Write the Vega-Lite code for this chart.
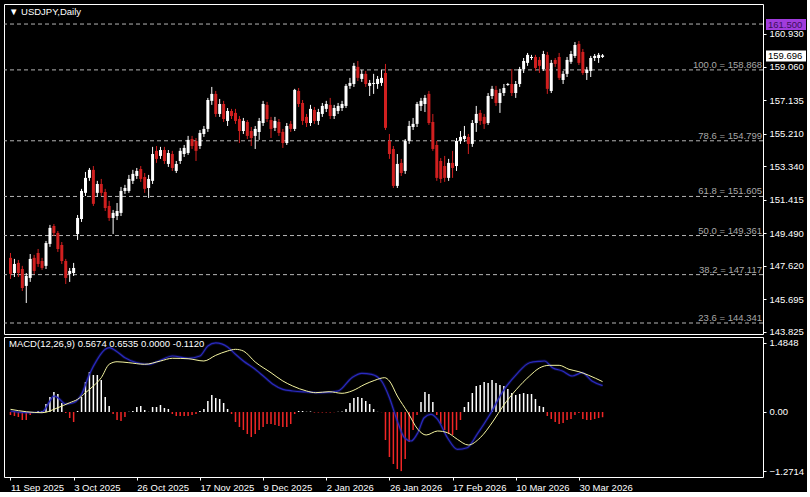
{
"$schema": "https://vega.github.io/schema/vega-lite/v6.json",
"background": "#000000",
"padding": {"left": 3, "top": 3, "right": 0, "bottom": 0},
"spacing": 3,
"bounds": "flush",
"config": {
  "view": {"stroke": "#ffffff", "strokeWidth": 1, "fill": "#000000"},
  "font": "Liberation Sans",
  "axis": {"labelColor": "#ffffff", "tickColor": "#ffffff", "domain": false, "grid": false, "labelFont": "Liberation Sans", "labelFontSize": 9.5, "title": null, "tickSize": 3, "labelPadding": 3, "labelOverlap": false, "labelBound": false, "labelFlush": false, "labelSeparation": 0}
},
"datasets": {
  "ohlc": [
{"i":0,"o":148.08,"h":148.36,"l":146.87,"c":147.16},
{"i":1,"o":147.21,"h":148.02,"l":146.98,"c":147.73},
{"i":2,"o":147.79,"h":147.96,"l":146.98,"c":147.21},
{"i":3,"o":147.44,"h":147.62,"l":146.18,"c":146.35},
{"i":4,"o":146.47,"h":147.21,"l":145.49,"c":147.04},
{"i":5,"o":146.93,"h":148.30,"l":146.70,"c":148.02},
{"i":6,"o":148.08,"h":148.25,"l":147.16,"c":147.33},
{"i":7,"o":148.36,"h":148.59,"l":147.56,"c":147.73},
{"i":8,"o":147.90,"h":148.08,"l":147.39,"c":147.50},
{"i":9,"o":147.62,"h":149.05,"l":147.44,"c":148.93},
{"i":10,"o":148.88,"h":149.97,"l":148.71,"c":149.80},
{"i":11,"o":149.91,"h":150.02,"l":149.34,"c":149.51},
{"i":12,"o":149.51,"h":149.62,"l":148.42,"c":148.59},
{"i":13,"o":148.82,"h":148.99,"l":147.73,"c":147.90},
{"i":14,"o":147.90,"h":148.02,"l":146.58,"c":146.93},
{"i":15,"o":147.16,"h":147.50,"l":146.70,"c":147.33},
{"i":16,"o":147.21,"h":147.79,"l":147.04,"c":147.50},
{"i":17,"o":149.45,"h":150.54,"l":149.11,"c":150.37},
{"i":18,"o":150.31,"h":152.04,"l":150.14,"c":151.92},
{"i":19,"o":151.81,"h":153.01,"l":151.63,"c":152.67},
{"i":20,"o":152.67,"h":153.24,"l":152.50,"c":153.13},
{"i":21,"o":153.13,"h":153.35,"l":151.06,"c":151.18},
{"i":22,"o":151.81,"h":152.50,"l":151.58,"c":152.32},
{"i":23,"o":152.32,"h":152.61,"l":151.63,"c":151.81},
{"i":24,"o":151.86,"h":152.04,"l":150.77,"c":150.94},
{"i":25,"o":151.06,"h":151.35,"l":150.20,"c":150.37},
{"i":26,"o":150.37,"h":150.83,"l":149.45,"c":150.66},
{"i":27,"o":150.48,"h":151.23,"l":150.25,"c":150.77},
{"i":28,"o":150.66,"h":152.15,"l":150.48,"c":151.92},
{"i":29,"o":151.92,"h":152.27,"l":151.75,"c":152.09},
{"i":30,"o":151.92,"h":152.84,"l":151.81,"c":152.61},
{"i":31,"o":152.50,"h":153.13,"l":152.32,"c":152.90},
{"i":32,"o":152.78,"h":153.24,"l":152.61,"c":153.07},
{"i":33,"o":153.18,"h":153.35,"l":152.44,"c":152.61},
{"i":34,"o":152.72,"h":152.95,"l":151.81,"c":152.04},
{"i":35,"o":152.09,"h":152.84,"l":151.52,"c":152.61},
{"i":36,"o":152.50,"h":154.45,"l":152.32,"c":154.04},
{"i":37,"o":154.22,"h":154.50,"l":153.53,"c":153.76},
{"i":38,"o":153.93,"h":154.45,"l":153.76,"c":154.27},
{"i":39,"o":154.27,"h":154.45,"l":153.47,"c":153.64},
{"i":40,"o":153.47,"h":154.27,"l":153.30,"c":154.10},
{"i":41,"o":154.04,"h":154.22,"l":153.07,"c":153.24},
{"i":42,"o":153.07,"h":153.64,"l":152.95,"c":153.47},
{"i":43,"o":153.64,"h":154.39,"l":153.47,"c":154.22},
{"i":44,"o":154.04,"h":154.56,"l":153.87,"c":154.39},
{"i":45,"o":154.10,"h":155.08,"l":153.99,"c":154.85},
{"i":46,"o":154.90,"h":155.08,"l":154.33,"c":154.50},
{"i":47,"o":154.79,"h":154.96,"l":153.64,"c":154.22},
{"i":48,"o":154.50,"h":155.42,"l":154.33,"c":155.25},
{"i":49,"o":155.19,"h":155.65,"l":155.02,"c":155.48},
{"i":50,"o":155.48,"h":157.26,"l":155.31,"c":157.14},
{"i":51,"o":157.09,"h":157.89,"l":156.86,"c":157.49},
{"i":52,"o":157.49,"h":157.66,"l":156.17,"c":156.34},
{"i":53,"o":156.34,"h":157.20,"l":156.17,"c":156.91},
{"i":54,"o":156.91,"h":157.09,"l":155.88,"c":156.05},
{"i":55,"o":155.94,"h":156.68,"l":155.65,"c":156.51},
{"i":56,"o":156.51,"h":156.63,"l":156.05,"c":156.22},
{"i":57,"o":156.40,"h":156.63,"l":155.77,"c":155.94},
{"i":58,"o":156.05,"h":156.22,"l":154.67,"c":155.36},
{"i":59,"o":155.36,"h":156.11,"l":155.19,"c":155.94},
{"i":60,"o":155.88,"h":155.99,"l":154.90,"c":155.08},
{"i":61,"o":155.36,"h":155.59,"l":154.50,"c":154.96},
{"i":62,"o":155.08,"h":155.65,"l":154.33,"c":155.48},
{"i":63,"o":155.31,"h":156.11,"l":154.85,"c":155.94},
{"i":64,"o":155.82,"h":157.09,"l":155.65,"c":156.91},
{"i":65,"o":156.86,"h":157.03,"l":155.88,"c":156.05},
{"i":66,"o":155.99,"h":156.17,"l":154.96,"c":155.48},
{"i":67,"o":155.54,"h":156.17,"l":155.36,"c":155.94},
{"i":68,"o":155.88,"h":156.05,"l":155.08,"c":155.25},
{"i":69,"o":155.31,"h":155.48,"l":154.39,"c":154.67},
{"i":70,"o":154.67,"h":155.82,"l":154.56,"c":155.65},
{"i":71,"o":155.77,"h":155.94,"l":155.31,"c":155.48},
{"i":72,"o":155.48,"h":157.78,"l":155.36,"c":157.72},
{"i":73,"o":157.66,"h":157.83,"l":156.74,"c":156.91},
{"i":74,"o":156.97,"h":157.14,"l":155.71,"c":155.94},
{"i":75,"o":156.17,"h":156.34,"l":155.59,"c":155.82},
{"i":76,"o":155.82,"h":156.86,"l":155.65,"c":156.63},
{"i":77,"o":156.57,"h":156.74,"l":155.77,"c":155.94},
{"i":78,"o":155.94,"h":156.63,"l":155.71,"c":156.45},
{"i":79,"o":156.34,"h":156.97,"l":156.17,"c":156.80},
{"i":80,"o":156.63,"h":157.09,"l":156.45,"c":156.91},
{"i":81,"o":156.86,"h":157.26,"l":156.05,"c":156.22},
{"i":82,"o":156.22,"h":156.86,"l":156.05,"c":156.68},
{"i":83,"o":156.51,"h":156.97,"l":156.34,"c":156.80},
{"i":84,"o":156.68,"h":157.09,"l":156.51,"c":156.91},
{"i":85,"o":156.80,"h":158.06,"l":156.68,"c":157.95},
{"i":86,"o":157.95,"h":158.41,"l":157.78,"c":158.12},
{"i":87,"o":158.06,"h":159.27,"l":157.89,"c":159.10},
{"i":88,"o":159.04,"h":159.38,"l":158.23,"c":158.41},
{"i":89,"o":158.35,"h":158.87,"l":158.18,"c":158.64},
{"i":90,"o":158.64,"h":158.81,"l":157.89,"c":158.06},
{"i":91,"o":157.95,"h":158.29,"l":157.37,"c":158.12},
{"i":92,"o":158.06,"h":158.64,"l":157.49,"c":158.12},
{"i":93,"o":158.06,"h":158.52,"l":157.78,"c":158.35},
{"i":94,"o":158.12,"h":158.87,"l":157.95,"c":158.41},
{"i":95,"o":158.69,"h":159.21,"l":155.42,"c":155.54},
{"i":96,"o":154.79,"h":155.19,"l":153.76,"c":154.04},
{"i":97,"o":154.33,"h":154.50,"l":152.09,"c":152.21},
{"i":98,"o":152.21,"h":154.04,"l":152.09,"c":153.47},
{"i":99,"o":153.53,"h":153.76,"l":152.78,"c":152.95},
{"i":100,"o":153.07,"h":154.90,"l":152.90,"c":154.79},
{"i":101,"o":154.79,"h":155.94,"l":154.62,"c":155.65},
{"i":102,"o":155.59,"h":156.11,"l":155.42,"c":155.77},
{"i":103,"o":155.77,"h":157.03,"l":155.59,"c":156.91},
{"i":104,"o":156.80,"h":157.26,"l":156.51,"c":157.09},
{"i":105,"o":156.91,"h":157.43,"l":156.45,"c":157.26},
{"i":106,"o":157.49,"h":157.66,"l":155.71,"c":155.82},
{"i":107,"o":155.88,"h":156.34,"l":154.22,"c":154.33},
{"i":108,"o":154.56,"h":154.79,"l":152.50,"c":152.67},
{"i":109,"o":153.64,"h":153.81,"l":152.38,"c":152.61},
{"i":110,"o":153.35,"h":153.93,"l":152.44,"c":152.67},
{"i":111,"o":152.67,"h":153.76,"l":152.50,"c":153.53},
{"i":112,"o":153.53,"h":154.22,"l":152.67,"c":153.24},
{"i":113,"o":153.35,"h":154.96,"l":153.07,"c":154.79},
{"i":114,"o":154.79,"h":155.36,"l":154.62,"c":155.02},
{"i":115,"o":154.90,"h":155.65,"l":154.73,"c":155.08},
{"i":116,"o":155.02,"h":155.19,"l":154.04,"c":154.62},
{"i":117,"o":154.62,"h":155.99,"l":154.45,"c":155.82},
{"i":118,"o":155.82,"h":156.80,"l":155.31,"c":156.34},
{"i":119,"o":156.40,"h":156.57,"l":155.71,"c":155.94},
{"i":120,"o":156.17,"h":156.34,"l":155.48,"c":155.77},
{"i":121,"o":155.82,"h":157.54,"l":155.71,"c":157.37},
{"i":122,"o":157.37,"h":157.95,"l":157.20,"c":157.78},
{"i":123,"o":157.72,"h":157.95,"l":156.80,"c":156.97},
{"i":124,"o":156.97,"h":157.78,"l":156.40,"c":157.54},
{"i":125,"o":157.54,"h":158.06,"l":157.37,"c":157.83},
{"i":126,"o":158.00,"h":158.12,"l":157.95,"c":158.06},
{"i":127,"o":158.06,"h":158.92,"l":157.37,"c":157.54},
{"i":128,"o":157.54,"h":158.23,"l":157.26,"c":158.06},
{"i":129,"o":158.06,"h":159.04,"l":157.89,"c":158.92},
{"i":130,"o":158.92,"h":159.55,"l":158.69,"c":159.38},
{"i":131,"o":159.27,"h":159.84,"l":159.10,"c":159.73},
{"i":132,"o":159.55,"h":159.73,"l":159.44,"c":159.61},
{"i":133,"o":159.61,"h":159.73,"l":158.81,"c":158.98},
{"i":134,"o":159.44,"h":159.61,"l":158.69,"c":159.10},
{"i":135,"o":158.92,"h":159.96,"l":158.81,"c":159.78},
{"i":136,"o":159.73,"h":159.90,"l":157.49,"c":157.78},
{"i":137,"o":157.66,"h":159.44,"l":157.54,"c":159.27},
{"i":138,"o":159.44,"h":159.55,"l":159.04,"c":159.21},
{"i":139,"o":159.61,"h":159.84,"l":158.29,"c":158.41},
{"i":140,"o":158.29,"h":158.81,"l":158.06,"c":158.64},
{"i":141,"o":158.64,"h":159.61,"l":158.46,"c":159.44},
{"i":142,"o":159.33,"h":159.96,"l":159.21,"c":159.78},
{"i":143,"o":159.67,"h":160.47,"l":159.55,"c":160.30},
{"i":144,"o":160.36,"h":160.53,"l":159.15,"c":159.27},
{"i":145,"o":159.90,"h":160.07,"l":158.58,"c":158.69},
{"i":146,"o":158.69,"h":159.04,"l":158.29,"c":158.87},
{"i":147,"o":158.81,"h":159.67,"l":158.46,"c":159.55},
{"i":148,"o":159.55,"h":159.78,"l":159.38,"c":159.67},
{"i":149,"o":159.55,"h":159.84,"l":159.27,"c":159.73},
{"i":150,"o":159.61,"h":159.78,"l":159.55,"c":159.70}
  ],
  "hist": [
{"i":0,"v":-0.065},{"i":1,"v":-0.086},{"i":2,"v":-0.108},{"i":3,"v":-0.172},{"i":4,"v":-0.172},{"i":5,"v":-0.065},{"i":6,"v":-0.022},{"i":7,"v":0.022},{"i":8,"v":0.022},{"i":9,"v":0.172},
{"i":10,"v":0.323},{"i":11,"v":0.43},{"i":12,"v":0.387},{"i":13,"v":0.194},{"i":14,"v":-0.022},{"i":15,"v":-0.129},{"i":16,"v":-0.215},{"i":17,"v":0.022},{"i":18,"v":0.323},{"i":19,"v":0.645},
{"i":20,"v":0.86},{"i":21,"v":0.796},{"i":22,"v":0.796},{"i":23,"v":0.688},{"i":24,"v":0.323},{"i":25,"v":0.129},{"i":26,"v":-0.043},{"i":27,"v":-0.172},{"i":28,"v":-0.194},{"i":29,"v":-0.108},
{"i":30,"v":0.005},{"i":31,"v":0.022},{"i":32,"v":0.108},{"i":33,"v":0.129},{"i":34,"v":0.043},{"i":35,"v":0.005},{"i":36,"v":0.108},{"i":37,"v":0.108},{"i":38,"v":0.151},{"i":39,"v":0.086},
{"i":40,"v":0.065},{"i":41,"v":-0.043},{"i":42,"v":-0.086},{"i":43,"v":-0.086},{"i":44,"v":-0.086},{"i":45,"v":-0.086},{"i":46,"v":-0.065},{"i":47,"v":-0.043},{"i":48,"v":0.022},{"i":49,"v":0.065},
{"i":50,"v":0.237},{"i":51,"v":0.366},{"i":52,"v":0.301},{"i":53,"v":0.28},{"i":54,"v":0.194},{"i":55,"v":0.065},{"i":56,"v":-0.043},{"i":57,"v":-0.215},{"i":58,"v":-0.323},{"i":59,"v":-0.387},
{"i":60,"v":-0.473},{"i":61,"v":-0.538},{"i":62,"v":-0.473},{"i":63,"v":-0.387},{"i":64,"v":-0.323},{"i":65,"v":-0.258},{"i":66,"v":-0.258},{"i":67,"v":-0.28},{"i":68,"v":-0.301},{"i":69,"v":-0.323},
{"i":70,"v":-0.323},{"i":71,"v":-0.258},{"i":72,"v":-0.043},{"i":73,"v":0.022},{"i":74,"v":0.022},{"i":75,"v":0.006},{"i":76,"v":0.011},{"i":77,"v":-0.011},{"i":78,"v":-0.011},{"i":79,"v":-0.011},
{"i":80,"v":-0.011},{"i":81,"v":-0.011},{"i":82,"v":-0.006},{"i":83,"v":0.006},{"i":84,"v":0.011},{"i":85,"v":0.065},{"i":86,"v":0.194},{"i":87,"v":0.301},{"i":88,"v":0.323},{"i":89,"v":0.301},
{"i":90,"v":0.237},{"i":91,"v":0.172},{"i":92,"v":0.065},{"i":93,"v":0.004},{"i":94,"v":-0.004},{"i":95,"v":-0.602},{"i":96,"v":-0.968},{"i":97,"v":-1.118},{"i":98,"v":-1.226},{"i":99,"v":-1.2714},
{"i":100,"v":-1.011},{"i":101,"v":-0.645},{"i":102,"v":-0.387},{"i":103,"v":-0.065},{"i":104,"v":0.215},{"i":105,"v":0.43},{"i":106,"v":0.387},{"i":107,"v":0.215},{"i":108,"v":-0.065},{"i":109,"v":-0.258},
{"i":110,"v":-0.387},{"i":111,"v":-0.473},{"i":112,"v":-0.495},{"i":113,"v":-0.387},{"i":114,"v":-0.172},{"i":115,"v":0.108},{"i":116,"v":0.215},{"i":117,"v":0.409},{"i":118,"v":0.559},{"i":119,"v":0.581},
{"i":120,"v":0.645},{"i":121,"v":0.624},{"i":122,"v":0.688},{"i":123,"v":0.624},{"i":124,"v":0.581},{"i":125,"v":0.559},{"i":126,"v":0.495},{"i":127,"v":0.409},{"i":128,"v":0.366},{"i":129,"v":0.387},
{"i":130,"v":0.409},{"i":131,"v":0.387},{"i":132,"v":0.387},{"i":133,"v":0.28},{"i":134,"v":0.129},{"i":135,"v":0.108},{"i":136,"v":-0.086},{"i":137,"v":-0.151},{"i":138,"v":-0.215},{"i":139,"v":-0.258},
{"i":140,"v":-0.237},{"i":141,"v":-0.172},{"i":142,"v":-0.151},{"i":143,"v":-0.065},{"i":144,"v":-0.022},{"i":145,"v":-0.151},{"i":146,"v":-0.172},{"i":147,"v":-0.172},{"i":148,"v":-0.151},{"i":149,"v":-0.129},
{"i":150,"v":-0.112}
  ],
  "macd": [
{"i":0,"v":0.022},{"i":4,"v":-0.015},{"i":8,"v":0},{"i":10,"v":0.237},{"i":11,"v":0.344},{"i":12,"v":0.308},{"i":14,"v":0.172},{"i":16,"v":0.2},{"i":18,"v":0.381},{"i":20,"v":0.811},
{"i":22,"v":1.133},{"i":24,"v":1.348},{"i":25,"v":1.383},{"i":27,"v":1.297},{"i":29,"v":1.168},{"i":32,"v":1.06},{"i":35,"v":1.026},{"i":38,"v":1.112},{"i":41,"v":1.204},{"i":45,"v":1.155},
{"i":48,"v":1.204},{"i":50,"v":1.419},{"i":52,"v":1.4848},{"i":55,"v":1.398},{"i":57,"v":1.241},{"i":59,"v":1.097},{"i":62,"v":0.918},{"i":65,"v":0.703},{"i":66.5,"v":0.596},{"i":69,"v":0.488},
{"i":71.5,"v":0.452},{"i":75,"v":0.43},{"i":79,"v":0.415},{"i":83,"v":0.452},{"i":86.5,"v":0.738},{"i":89,"v":0.832},{"i":91.5,"v":0.811},{"i":94,"v":0.667},{"i":96,"v":0.308},{"i":98,"v":-0.194},
{"i":99.8,"v":-0.553},{"i":101.5,"v":-0.624},{"i":103.2,"v":-0.445},{"i":104.8,"v":-0.123},{"i":106.5,"v":-0.049},{"i":108.2,"v":-0.157},{"i":110.7,"v":-0.553},{"i":113.2,"v":-0.802},{"i":115.7,"v":-0.768},{"i":118.2,"v":-0.48},
{"i":121.5,"v":-0.049},{"i":124.8,"v":0.452},{"i":128.2,"v":0.811},{"i":131.5,"v":1.06},{"i":134,"v":1.09},{"i":135.3,"v":1.097},{"i":137.3,"v":0.953},{"i":139.8,"v":0.882},{"i":142.3,"v":0.774},{"i":144.8,"v":0.845},
{"i":147.3,"v":0.667},{"i":150,"v":0.5674}
  ],
  "sig": [
{"i":0,"v":0.058},{"i":4,"v":0.006},{"i":8,"v":-0.015},{"i":12,"v":0.092},{"i":15,"v":0.2},{"i":17,"v":0.273},{"i":19,"v":0.415},{"i":21,"v":0.559},{"i":23,"v":0.738},{"i":25,"v":1.026},
{"i":27,"v":1.081},{"i":30,"v":1.06},{"i":34,"v":1.026},{"i":38,"v":1.097},{"i":41,"v":1.155},{"i":45,"v":1.146},{"i":49,"v":1.097},{"i":52,"v":1.219},{"i":55,"v":1.312},{"i":57,"v":1.348},
{"i":59,"v":1.312},{"i":62,"v":1.075},{"i":66,"v":0.845},{"i":69,"v":0.667},{"i":71.5,"v":0.559},{"i":75,"v":0.452},{"i":77.3,"v":0.415},{"i":80.7,"v":0.437},{"i":84,"v":0.402},{"i":86.5,"v":0.452},
{"i":89.8,"v":0.596},{"i":92.3,"v":0.682},{"i":94.8,"v":0.738},{"i":96,"v":0.667},{"i":98,"v":0.344},{"i":100.7,"v":-0.015},{"i":103.2,"v":-0.372},{"i":105.3,"v":-0.495},{"i":108.2,"v":-0.409},{"i":110.7,"v":-0.445},
{"i":113.2,"v":-0.587},{"i":116,"v":-0.71},{"i":119,"v":-0.553},{"i":122.3,"v":-0.194},{"i":124.8,"v":0.129},{"i":128.2,"v":0.488},{"i":131.5,"v":0.774},{"i":134,"v":0.946},{"i":136.5,"v":1.004},{"i":139,"v":1.004},
{"i":141.5,"v":0.918},{"i":144,"v":0.867},{"i":146.5,"v":0.789},{"i":150,"v":0.6535}
  ],
  "fib": [
{"p":161.5,"lbl":""},
{"p":158.868,"lbl":"100.0 = 158.868"},
{"p":154.799,"lbl":"78.6 = 154.799"},
{"p":151.605,"lbl":"61.8 = 151.605"},
{"p":149.361,"lbl":"50.0 = 149.361"},
{"p":147.117,"lbl":"38.2 = 147.117"},
{"p":144.341,"lbl":"23.6 = 144.341"}
  ],
  "tags": [
{"p":159.696,"lbl":"159.696","k":"last"},
{"p":161.5,"lbl":"161.500","k":"alert"}
  ]
},
"vconcat": [
  {
    "width": 759,
    "height": 330,
    "title": {"text": "▼ USDJPY,Daily", "anchor": "start", "frame": "group", "offset": -12, "dx": 5, "color": "#ffffff", "fontSize": 9.5, "fontWeight": "normal", "font": "Liberation Sans"},
    "layer": [
      {
        "data": {"name": "fib"},
        "mark": {"type": "rule", "strokeDash": [4, 3], "color": "#b4b4b4", "strokeWidth": 1},
        "encoding": {
          "y": {"field": "p", "type": "quantitative", "scale": {"domain": [143.71, 162.65], "nice": false, "zero": false},
                "axis": {"orient": "right", "values": [160.93, 159.06, 157.135, 155.21, 153.34, 151.415, 149.49, 147.62, 145.695, 143.825], "format": ".3f", "tickSize": 3, "labelPadding": 3, "labelOverlap": false, "labelBound": false, "labelSeparation": 0}}
        }
      },
      {
        "data": {"name": "fib"},
        "mark": {"type": "text", "align": "right", "baseline": "alphabetic", "dx": -1, "dy": -2, "color": "#a8a8a8", "fontSize": 9.5, "font": "Liberation Sans"},
        "encoding": {
          "x": {"value": "width"},
          "y": {"field": "p", "type": "quantitative",
                "axis": {"orient": "right", "values": [160.93, 159.06, 157.135, 155.21, 153.34, 151.415, 149.49, 147.62, 145.695, 143.825], "format": ".3f", "tickSize": 3, "labelPadding": 3, "labelOverlap": false, "labelBound": false, "labelSeparation": 0}},
          "text": {"field": "lbl"}
        }
      },
      {
        "data": {"name": "ohlc"},
        "mark": {"type": "rule", "strokeWidth": 1},
        "encoding": {
          "x": {"field": "i", "type": "quantitative", "scale": {"domain": [-0.375, 189.375], "nice": false, "zero": false}, "axis": null},
          "y": {"field": "l", "type": "quantitative",
                "axis": {"orient": "right", "values": [160.93, 159.06, 157.135, 155.21, 153.34, 151.415, 149.49, 147.62, 145.695, 143.825], "format": ".3f", "tickSize": 3, "labelPadding": 3, "labelOverlap": false, "labelBound": false, "labelSeparation": 0}},
          "y2": {"field": "h"},
          "color": {"condition": {"test": "datum.c >= datum.o", "value": "#ffffff"}, "value": "#d11f1f"}
        }
      },
      {
        "data": {"name": "ohlc"},
        "mark": {"type": "bar", "size": 3},
        "encoding": {
          "x": {"field": "i", "type": "quantitative", "axis": null},
          "y": {"field": "o", "type": "quantitative",
                "axis": {"orient": "right", "values": [160.93, 159.06, 157.135, 155.21, 153.34, 151.415, 149.49, 147.62, 145.695, 143.825], "format": ".3f", "tickSize": 3, "labelPadding": 3, "labelOverlap": false, "labelBound": false, "labelSeparation": 0}},
          "y2": {"field": "c"},
          "color": {"condition": {"test": "datum.c >= datum.o", "value": "#ffffff"}, "value": "#d11f1f"}
        }
      },
      {
        "data": {"name": "tags"},
        "mark": {"type": "rect", "clip": false, "xOffset": 3, "x2Offset": 43, "yOffset": -5, "y2Offset": 6},
        "encoding": {
          "x": {"value": "width"},
          "x2": {"value": "width"},
          "y": {"field": "p", "type": "quantitative",
                "axis": {"orient": "right", "values": [160.93, 159.06, 157.135, 155.21, 153.34, 151.415, 149.49, 147.62, 145.695, 143.825], "format": ".3f", "tickSize": 3, "labelPadding": 3, "labelOverlap": false, "labelBound": false, "labelSeparation": 0}},
          "y2": {"field": "p"},
          "color": {"condition": {"test": "datum.k == 'alert'", "value": "#a03cdc"}, "value": "#ffffff"}
        }
      },
      {
        "data": {"name": "tags"},
        "mark": {"type": "text", "clip": false, "align": "left", "baseline": "middle", "dx": 5, "dy": 1, "fontSize": 9.5, "font": "Liberation Sans"},
        "encoding": {
          "x": {"value": "width"},
          "y": {"field": "p", "type": "quantitative",
                "axis": {"orient": "right", "values": [160.93, 159.06, 157.135, 155.21, 153.34, 151.415, 149.49, 147.62, 145.695, 143.825], "format": ".3f", "tickSize": 3, "labelPadding": 3, "labelOverlap": false, "labelBound": false, "labelSeparation": 0}},
          "text": {"field": "lbl"},
          "color": {"condition": {"test": "datum.k == 'alert'", "value": "#3c0f5c"}, "value": "#000000"}
        }
      }
    ]
  },
  {
    "width": 759,
    "height": 140,
    "title": {"text": "MACD(12,26,9) 0.5674 0.6535 0.0000 -0.1120", "anchor": "start", "frame": "group", "offset": -12, "dx": 5, "color": "#ffffff", "fontSize": 9.5, "fontWeight": "normal", "font": "Liberation Sans"},
    "layer": [
      {
        "data": {"name": "hist"},
        "transform": [{"filter": "datum.v >= 0"}],
        "mark": {"type": "bar", "size": 1.5, "color": "#ffffff"},
        "encoding": {
          "x": {"field": "i", "type": "quantitative", "scale": {"domain": [-0.375, 189.375], "nice": false, "zero": false},
                "axis": {"orient": "bottom", "values": [0, 16, 32, 48, 64, 80, 96, 112, 128, 144],
                         "labelExpr": "['11 Sep 2025','3 Oct 2025','26 Oct 2025','17 Nov 2025','9 Dec 2025','2 Jan 2026','26 Jan 2026','17 Feb 2026','10 Mar 2026','30 Mar 2026'][round(datum.value/16)]",
                         "labelAlign": "left", "labelPadding": 2, "tickSize": 3, "labelOverlap": false, "labelBound": false, "labelFlush": false}},
          "y": {"field": "v", "type": "quantitative", "scale": {"domain": [-1.398, 1.613], "nice": false, "zero": false},
                "axis": {"orient": "right", "values": [1.4848, 0, -1.2714], "labelExpr": "datum.value == 0 ? '0.00' : format(datum.value, '.4f')", "tickSize": 3, "labelPadding": 3, "labelOverlap": false, "labelBound": false}},
          "y2": {"datum": 0}
        }
      },
      {
        "data": {"name": "hist"},
        "transform": [{"filter": "datum.v < 0"}],
        "mark": {"type": "bar", "size": 1.5, "color": "#f02626"},
        "encoding": {
          "x": {"field": "i", "type": "quantitative"},
          "y": {"field": "v", "type": "quantitative"},
          "y2": {"datum": 0}
        }
      },
      {
        "data": {"name": "macd"},
        "mark": {"type": "line", "interpolate": "monotone", "color": "#2222a8", "strokeWidth": 3, "opacity": 0.3},
        "encoding": {
          "x": {"field": "i", "type": "quantitative"},
          "y": {"field": "v", "type": "quantitative"}
        }
      },
      {
        "data": {"name": "macd"},
        "mark": {"type": "line", "interpolate": "monotone", "color": "#2a2abe", "strokeWidth": 1.2},
        "encoding": {
          "x": {"field": "i", "type": "quantitative"},
          "y": {"field": "v", "type": "quantitative"}
        }
      },
      {
        "data": {"name": "sig"},
        "mark": {"type": "line", "interpolate": "monotone", "color": "#f4f4a0", "strokeWidth": 1},
        "encoding": {
          "x": {"field": "i", "type": "quantitative"},
          "y": {"field": "v", "type": "quantitative"}
        }
      }
    ]
  }
]
}
